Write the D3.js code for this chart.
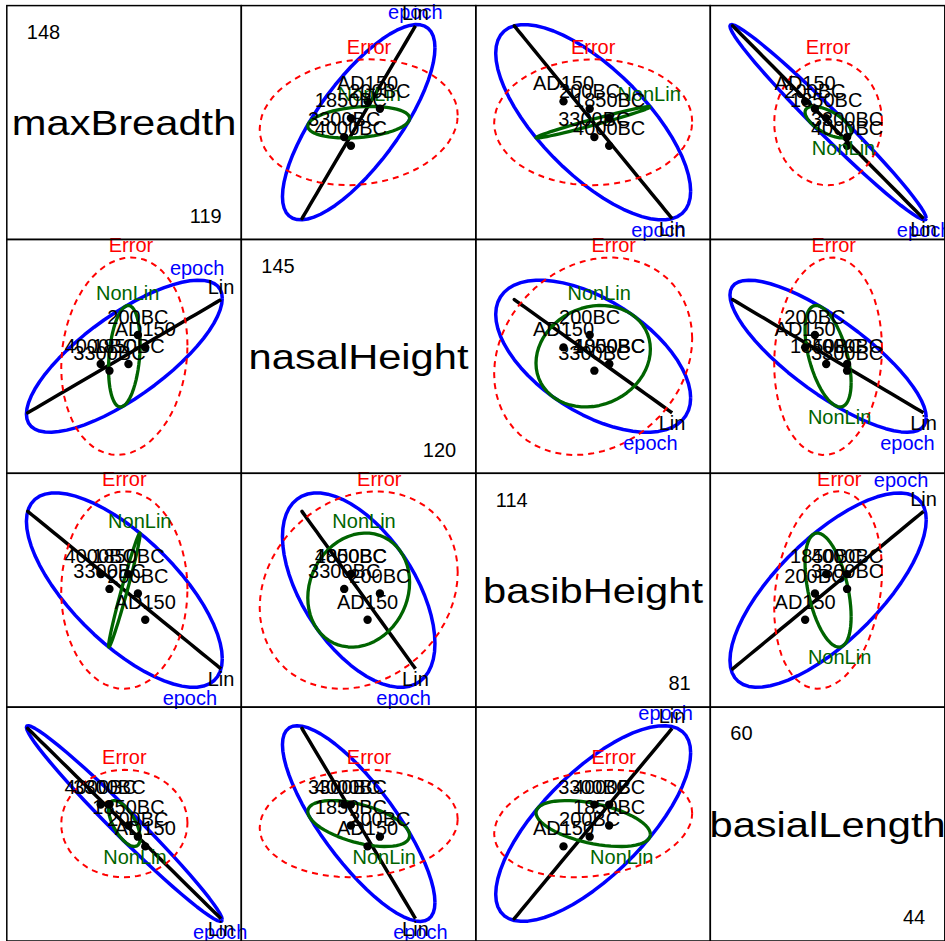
<!DOCTYPE html>
<html><head><meta charset="utf-8">
<script src="https://cdn.jsdelivr.net/npm/d3@7"></script>
<style>body{margin:0;background:#fff}svg{display:block}</style>
</head><body><svg id="c" width="945" height="941"></svg>
<script>
// ---------- data ----------
const variables = ["maxBreadth", "nasalHeight", "basibHeight", "basialLength"];
const rangeMax = [148, 145, 114, 60];
const rangeMin = [119, 120, 81, 44];
const epochs = ["4000BC", "3300BC", "1850BC", "200BC", "AD150"];
const maxBreadth   = [130.38, 131.55, 134.09, 135.35, 136.33];
const nasalHeight  = [131.62, 130.85, 131.62, 134.96, 133.54];
const basibHeight  = [99.95, 97.70, 99.95, 96.99, 93.01];
const basialLength = [53.44, 53.44, 51.90, 51.07, 50.35];
const linContrast = [-2, -1, 0, 1, 2];
const hypScale = 2.6;                       // ellipse radius factor for hypothesis terms
const errorHalfWidth = [8.43, 11.4, 15.05, 3.97];
const errorCor = [
  [1.00, 0.11, 0.01, 0.01],
  [0.11, 1.00, 0.18, 0.08],
  [0.01, 0.18, 1.00, 0.19],
  [0.01, 0.08, 0.19, 1.00]
];

// ---------- matrices ----------
const means = [maxBreadth, nasalHeight, basibHeight, basialLength];
const nv = variables.length;
const grand = means.map(m => d3.mean(m));
const dev = epochs.map((e, g) => means.map((m, v) => m[g] - grand[v]));
const S = d3.range(nv).map(a => d3.range(nv).map(b => d3.sum(dev, d => d[a] * d[b])));
const w = means.map(m => d3.sum(m, (x, g) => x * linContrast[g]));
const Lsq = d3.sum(linContrast, l => l * l);
const HLin = d3.range(nv).map(a => d3.range(nv).map(b => w[a] * w[b] / Lsq));
const HNon = d3.range(nv).map(a => d3.range(nv).map(b => S[a][b] - HLin[a][b]));
const k2 = hypScale * hypScale;
const scaleM = M => M.map(r => r.map(x => x * k2));
const Emat = d3.range(nv).map(a => d3.range(nv).map(b => errorCor[a][b] * errorHalfWidth[a] * errorHalfWidth[b]));

const terms = [
  {name: "epoch",  M: scaleM(S),    color: "#0000FF", width: 3.5, dash: null,  labelColor: "#0000FF"},
  {name: "Lin",    M: scaleM(HLin), color: "#000000", width: 3.5, dash: null,  labelColor: "#000000"},
  {name: "NonLin", M: scaleM(HNon), color: "#006400", width: 3.3, dash: null,  labelColor: "#006400"},
  {name: "Error",  M: Emat,         color: "#FF0000", width: 2,   dash: "6,5", labelColor: "#FF0000"}
];

// ---------- layout ----------
const gridLeft = 6.8, gridTop = 5.6, PW = 234.5, PH = 233.85;
const font = "'Liberation Sans', Arial, Helvetica, sans-serif";
const svg = d3.select("#c");
svg.append("rect").attr("width", 945).attr("height", 941).attr("fill", "#fff");

const xs = variables.map((v, j) => {
  const d = rangeMax[j] - rangeMin[j];
  return d3.scaleLinear().domain([rangeMin[j] - 0.04 * d, rangeMax[j] + 0.04 * d])
    .range([gridLeft + j * PW, gridLeft + (j + 1) * PW]);
});
const ys = variables.map((v, i) => {
  const d = rangeMax[i] - rangeMin[i];
  return d3.scaleLinear().domain([rangeMin[i] - 0.04 * d, rangeMax[i] + 0.04 * d])
    .range([gridTop + (i + 1) * PH, gridTop + i * PH]);
});

function ellipsePts(M, j, i) {
  const a = Math.sqrt(M[j][j]);
  const b = M[j][i] / a;
  const c = Math.sqrt(Math.max(0, M[i][i] - b * b));
  const seg = 60;
  return d3.range(seg + 1).map(s => {
    const t = s * 2 * Math.PI / seg;
    return [grand[j] + a * Math.cos(t), grand[i] + b * Math.cos(t) + c * Math.sin(t)];
  });
}

const layerShapes = svg.append("g");
const layerText = svg.append("g");
const nameSize = 35, nameStretch = 1.19;

for (let i = 0; i < nv; i++) {
  for (let j = 0; j < nv; j++) {
    const x0 = gridLeft + j * PW, y0 = gridTop + i * PH;
    if (i === j) {
      const cx = x0 + PW / 2, cy = y0 + PH / 2 + 0.716 * nameSize / 2;
      layerText.append("text").attr("x", 0).attr("y", 0)
        .attr("transform", `translate(${cx},${cy}) scale(${nameStretch},1)`)
        .attr("text-anchor", "middle").attr("font-family", font).attr("font-size", nameSize)
        .attr("fill", "#000").text(variables[i]);
      layerText.append("text").attr("x", x0 + 20).attr("y", y0 + 33.3)
        .attr("text-anchor", "start").attr("font-family", font).attr("font-size", 20)
        .attr("fill", "#000").text(rangeMax[i]);
      layerText.append("text").attr("x", x0 + PW - 19.6).attr("y", y0 + PH - 16.8)
        .attr("text-anchor", "end").attr("font-family", font).attr("font-size", 20)
        .attr("fill", "#000").text(rangeMin[i]);
      continue;
    }
    const sx = xs[j], sy = ys[i];
    const line = d3.line().x(p => sx(p[0])).y(p => sy(p[1]));
    terms.forEach(t => {
      const pts = ellipsePts(t.M, j, i);
      layerShapes.append("path").attr("d", line(pts)).attr("fill", "none")
        .attr("stroke", t.color).attr("stroke-width", t.width)
        .attr("stroke-dasharray", t.dash).attr("stroke-linejoin", "round");
      const r = t.M[j][i];
      let p, dy;
      if (r > 0) { p = pts[d3.maxIndex(pts, q => q[1])]; dy = -5.5; }
      else { p = pts[d3.minIndex(pts, q => q[1])]; dy = 17.4; }
      layerText.append("text").attr("x", sx(p[0])).attr("y", sy(p[1]) + dy)
        .attr("text-anchor", "middle").attr("font-family", font).attr("font-size", 20)
        .attr("fill", t.labelColor).text(t.name);
    });
    epochs.forEach((e, g) => {
      layerShapes.append("circle").attr("cx", sx(means[j][g])).attr("cy", sy(means[i][g]))
        .attr("r", 4.2).attr("fill", "#000");
    });
    epochs.forEach((e, g) => {
      layerText.append("text").attr("x", sx(means[j][g])).attr("y", sy(means[i][g]) - 11)
        .attr("text-anchor", "middle").attr("font-family", font).attr("font-size", 20)
        .attr("fill", "#000").text(e);
    });
  }
}
// panel boxes
for (let i = 0; i < nv; i++) for (let j = 0; j < nv; j++) {
  svg.append("rect").attr("x", gridLeft + j * PW).attr("y", gridTop + i * PH)
    .attr("width", PW).attr("height", PH).attr("fill", "none")
    .attr("stroke", "#000").attr("stroke-width", 1.5);
}
</script></body></html>
